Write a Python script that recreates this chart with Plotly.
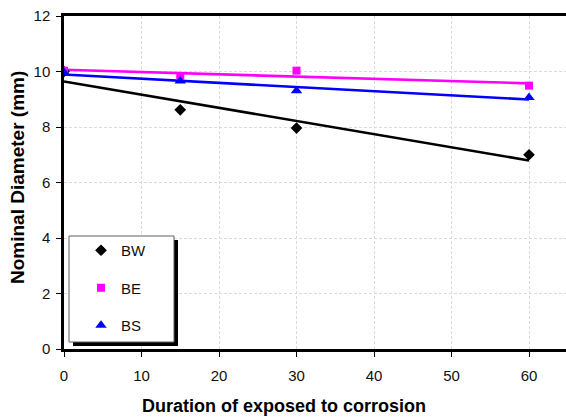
import numpy as np
import plotly.graph_objects as go

# ---- data ----
duration = [0, 15, 30, 60]
bw = [10.0, 8.62, 7.96, 7.0]
be = [10.03, 9.84, 10.03, 9.49]
bs = [9.96, 9.66, 9.31, 9.06]
series_names = ["BW", "BE", "BS"]
series_colors = ["#000000", "#FF00FF", "#0000FF"]
series_symbols = ["diamond", "square", "triangle-up"]
x_title = "Duration of exposed to corrosion"
y_title = "Nominal Diameter (mm)"

W, H = 566, 419
ML, MR, MT, MB = 64, 0, 16, 70
PW, PH = W - ML - MR, H - MT - MB


def px_x(p):
    return (p - ML) / PW


def px_y(p):
    return (H - MB - p) / PH


fig = go.Figure()
xfit = np.array([min(duration), max(duration)], dtype=float)
for name, vals, col, sym in zip(series_names, [bw, be, bs], series_colors, series_symbols):
    k, b = np.polyfit(duration, vals, 1)
    fig.add_trace(go.Scatter(x=xfit, y=k * xfit + b, mode="lines",
                             line=dict(color=col, width=2.6),
                             showlegend=False, hoverinfo="skip"))
for name, vals, col, sym in zip(series_names, [bw, be, bs], series_colors, series_symbols):
    size = {"diamond": 9, "square": 8, "triangle-up": 10}[sym]
    fig.add_trace(go.Scatter(x=duration, y=vals, mode="markers", name=name,
                             legendgroup=name,
                             marker=dict(symbol=sym, color=col, size=size,
                                         line=dict(width=0))))

# legend box with shadow (drawn as shapes)
lx0, lx1, ly0, ly1 = 69, 174, 236, 342
fig.add_shape(type="rect", xref="paper", yref="paper",
              x0=px_x(lx0 + 4), x1=px_x(lx1 + 4), y0=px_y(ly0 + 4), y1=px_y(ly1 + 4),
              fillcolor="black", line=dict(width=0), layer="above")
fig.add_shape(type="rect", xref="paper", yref="paper",
              x0=px_x(lx0), x1=px_x(lx1), y0=px_y(ly0), y1=px_y(ly1),
              fillcolor="white", line=dict(color="#606060", width=1), layer="above")

fig.add_annotation(text=x_title, xref="paper", yref="paper",
                   x=px_x(284), y=px_y(406), xanchor="center", yanchor="middle",
                   showarrow=False,
                   font=dict(family="Arial, Liberation Sans", size=18, color="black", weight="bold"))
fig.add_annotation(text=y_title, xref="paper", yref="paper",
                   x=px_x(17), y=px_y(178), xanchor="center", yanchor="middle",
                   textangle=-90, showarrow=False,
                   font=dict(family="Arial, Liberation Sans", size=19, color="black", weight="bold"))

fig.update_layout(
    width=W, height=H,
    margin=dict(l=ML, r=MR, t=MT, b=MB, pad=0),
    paper_bgcolor="white", plot_bgcolor="white",
    font=dict(family="Arial, Liberation Sans", size=15, color="#111111"),
    showlegend=True,
    legend=dict(x=px_x(81), y=px_y(ly0 - 2), xanchor="left", yanchor="top",
                bgcolor="rgba(0,0,0,0)", borderwidth=0,
                traceorder="grouped", tracegroupgap=15,
                font=dict(size=15, color="#111111"), itemwidth=30),
    xaxis=dict(range=[0, PW / 7.75], tickmode="linear", tick0=0, dtick=10,
               showgrid=True, gridcolor="#dadada", griddash="3px,2px", gridwidth=1,
               showline=True, linecolor="black", linewidth=2.5, mirror=True,
               ticks="outside", ticklen=5, tickcolor="black", tickwidth=1,
               zeroline=False, ticklabelstandoff=6),
    yaxis=dict(range=[0, 12], tickmode="linear", tick0=0, dtick=2,
               showgrid=True, gridcolor="#dadada", griddash="3px,2px", gridwidth=1,
               showline=True, linecolor="black", linewidth=2.5,
               ticks="outside", ticklen=5, tickcolor="black", tickwidth=1,
               zeroline=False, ticklabelstandoff=3),
)

fig.write_html("out.html", config={"displayModeBar": False},
               post_script="document.body.style.margin='0';document.body.style.overflow='hidden';")
